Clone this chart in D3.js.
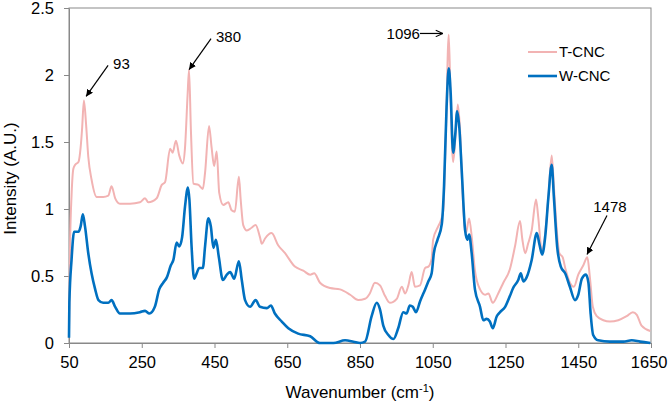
<!DOCTYPE html>
<html>
<head>
<meta charset="utf-8">
<script src="https://cdn.jsdelivr.net/npm/d3@7"></script>
<style>
  body { margin: 0; background: #fff; }
  svg text { font-family: "Liberation Sans", Arial, sans-serif; fill: #000; }
</style>
</head>
<body>
<div class="chart"></div>
<script>
// Raman spectra, wavenumber (cm-1) vs intensity (A.U.)
var tcnc = [
  [50,0.1],[53,0.75],[57,1.1],[62,1.3],[67,1.33],[76,1.35],[82,1.46],[86,1.6],[91,1.81],[97,1.63],
  [103,1.39],[112,1.22],[126,1.09],[144,1.09],[158,1.10],[167,1.17],[177,1.08],[190,1.04],[218,1.04],
  [245,1.05],[259,1.08],[268,1.05],[291,1.08],[305,1.18],[314,1.20],[328,1.45],[335,1.42],[344,1.51],
  [353,1.40],[363,1.34],[369,1.46],[376,1.85],[380,2.04],[385,1.6],[392,1.19],[406,1.18],[418,1.15],
  [424,1.27],[435,1.62],[442,1.46],[449,1.32],[456,1.43],[463,1.12],[474,1.03],[488,1.05],[497,0.99],
  [506,0.98],[517,1.24],[522,1.07],[529,0.88],[539,0.84],[552,0.86],[563,0.88],[575,0.79],[580,0.74],
  [589,0.78],[607,0.82],[625,0.73],[644,0.67],[671,0.57],[694,0.54],[713,0.51],[724,0.52],[740,0.45],
  [768,0.41],[795,0.40],[823,0.36],[845,0.32],[864,0.33],[877,0.37],[891,0.45],[905,0.43],[919,0.35],
  [932,0.30],[951,0.33],[965,0.42],[974,0.37],[983,0.43],[992,0.53],[1001,0.42],[1015,0.43],[1029,0.56],
  [1038,0.57],[1047,0.63],[1051,0.77],[1065,0.87],[1073,0.92],[1079,0.99],[1086,1.56],[1094,2.30],
  [1099,1.81],[1106,1.35],[1113,1.56],[1119,1.78],[1125,1.59],[1132,1.12],[1141,0.82],[1150,0.93],
  [1158,0.77],[1166,0.54],[1180,0.40],[1194,0.36],[1203,0.37],[1215,0.30],[1230,0.37],[1244,0.45],
  [1262,0.55],[1276,0.72],[1290,0.91],[1296,0.78],[1304,0.67],[1312,0.74],[1322,0.84],[1334,1.07],
  [1340,0.94],[1350,0.68],[1357,0.77],[1368,1.09],[1377,1.40],[1383,1.17],[1391,0.84],[1398,0.67],
  [1407,0.64],[1416,0.54],[1427,0.45],[1438,0.42],[1450,0.51],[1464,0.58],[1475,0.64],[1482,0.49],
  [1490,0.27],[1501,0.20],[1519,0.17],[1537,0.16],[1560,0.17],[1583,0.20],[1600,0.23],[1611,0.21],
  [1624,0.13],[1648,0.09]
];

var wcnc = [
  [50,0.04],[51,0.3],[57,0.62],[64,0.83],[76,0.83],[82,0.87],[88,0.96],[94,0.87],[103,0.67],[112,0.52],
  [122,0.40],[131,0.32],[144,0.30],[158,0.30],[167,0.32],[177,0.27],[190,0.22],[218,0.22],[245,0.23],
  [259,0.24],[271,0.22],[286,0.27],[298,0.40],[309,0.45],[319,0.49],[330,0.58],[337,0.62],[346,0.75],
  [353,0.72],[361,0.79],[369,1.02],[377,1.16],[381,1.07],[387,0.72],[394,0.48],[401,0.52],[408,0.56],
  [418,0.56],[424,0.72],[433,0.93],[440,0.87],[447,0.71],[454,0.77],[462,0.64],[473,0.47],[484,0.51],
  [493,0.53],[504,0.48],[517,0.61],[525,0.47],[534,0.32],[548,0.27],[563,0.32],[575,0.27],[594,0.26],
  [605,0.28],[616,0.22],[635,0.16],[653,0.11],[680,0.07],[713,0.05],[740,0.0],[777,0.0],[809,0.02],
  [832,0.01],[850,0.0],[864,0.01],[882,0.20],[896,0.30],[905,0.25],[914,0.13],[928,0.06],[942,0.03],
  [955,0.11],[969,0.23],[978,0.22],[987,0.28],[995,0.27],[1004,0.23],[1015,0.31],[1029,0.40],
  [1038,0.46],[1047,0.52],[1053,0.67],[1063,0.77],[1075,0.89],[1081,1.17],[1088,1.76],[1094,2.05],
  [1099,1.88],[1106,1.42],[1112,1.56],[1117,1.73],[1123,1.61],[1130,1.27],[1139,0.84],[1145,0.77],
  [1150,0.81],[1157,0.67],[1166,0.40],[1180,0.27],[1189,0.17],[1198,0.18],[1207,0.16],[1215,0.11],
  [1226,0.20],[1235,0.23],[1249,0.27],[1262,0.35],[1271,0.41],[1285,0.47],[1292,0.52],[1299,0.46],
  [1308,0.49],[1322,0.62],[1336,0.82],[1343,0.74],[1351,0.66],[1359,0.79],[1368,1.09],[1377,1.33],
  [1383,1.09],[1392,0.72],[1402,0.57],[1414,0.52],[1427,0.42],[1441,0.32],[1450,0.36],[1460,0.48],
  [1471,0.51],[1478,0.45],[1484,0.22],[1491,0.06],[1505,0.02],[1537,0.01],[1574,0.01],[1597,0.02],
  [1620,0.01],[1648,0.0]
];

var xTicks = [50, 250, 450, 650, 850, 1050, 1250, 1450, 1650];
var yTicks = [0, 0.5, 1, 1.5, 2, 2.5];
var seriesNames = ["T-CNC", "W-CNC"];

// peak labels: text, wavenumber and intensity the arrow points at
var peakLabels = [
  { text: "93",   w: 97,   v: 1.84 },
  { text: "380",  w: 380,  v: 2.04 },
  { text: "1096", w: 1078, v: 2.31 },
  { text: "1478", w: 1474, v: 0.66 }
];

var width = 668, height = 405;
var margin = { top: 8, right: 17, bottom: 62, left: 69 };

var svg = d3.select(".chart").append("svg")
    .attr("width", width)
    .attr("height", height);

var x = d3.scaleLinear().domain([50, 1650]).range([margin.left, width - margin.right]);
var y = d3.scaleLinear().domain([0, 2.5]).range([height - margin.bottom, margin.top]);

var axisColor = "#898989";

// frame
svg.append("rect")
    .attr("x", x(50)).attr("y", y(2.5))
    .attr("width", x(1650) - x(50)).attr("height", y(0) - y(2.5))
    .attr("fill", "none").attr("stroke", axisColor).attr("stroke-width", 1);

var xAxis = svg.append("g")
    .attr("transform", "translate(0," + y(0) + ")")
    .call(d3.axisBottom(x).tickValues(xTicks).tickSizeInner(5).tickSizeOuter(0).tickPadding(8)
      .tickFormat(function(d){ return String(d); }));
var yAxis = svg.append("g")
    .attr("transform", "translate(" + x(50) + ",0)")
    .call(d3.axisLeft(y).tickValues(yTicks).tickSizeInner(5).tickSizeOuter(0).tickPadding(10)
      .tickFormat(function(d){ return String(d); }));

[xAxis, yAxis].forEach(function(g){
  g.selectAll("path, line").attr("stroke", axisColor);
  g.selectAll("text").style("font-size", "16.5px").attr("fill", "#000");
});
// last label sits against the right edge of the picture
xAxis.selectAll(".tick").filter(function(d){ return d === 1650; })
    .select("text").attr("text-anchor", "end").attr("x", 16);

// axis titles
var xt = svg.append("text")
    .attr("x", (x(50) + x(1650)) / 2)
    .attr("y", 398)
    .attr("text-anchor", "middle")
    .style("font-size", "17px");
xt.append("tspan").text("Wavenumber (cm");
xt.append("tspan").text("-1").attr("dy", -6).style("font-size", "11px");
xt.append("tspan").text(")").attr("dy", 6);

svg.append("text")
    .attr("transform", "translate(16," + ((y(0) + y(2.5)) / 2 + 3) + ") rotate(-90)")
    .attr("text-anchor", "middle")
    .style("font-size", "17px")
    .text("Intensity (A.U.)");

// lines
var line = d3.line()
    .x(function(d){ return x(d[0]); })
    .y(function(d){ return y(d[1]); })
    .curve(d3.curveMonotoneX);

var colors = { "T-CNC": "#f2b3b3", "W-CNC": "#0070c0" };
var widths = { "T-CNC": 2, "W-CNC": 2.6 };

svg.append("path").datum(tcnc)
    .attr("d", line).attr("fill", "none")
    .attr("stroke", colors["T-CNC"]).attr("stroke-width", widths["T-CNC"]).attr("stroke-linejoin", "round");
svg.append("path").datum(wcnc)
    .attr("d", line).attr("fill", "none")
    .attr("stroke", colors["W-CNC"]).attr("stroke-width", widths["W-CNC"]).attr("stroke-linejoin", "round");

// legend
var legend = svg.append("g");
seriesNames.forEach(function(name, i){
  var ly = 52 + i * 24;
  legend.append("line")
      .attr("x1", 528).attr("x2", 557).attr("y1", ly).attr("y2", ly)
      .attr("stroke", colors[name]).attr("stroke-width", widths[name]);
  legend.append("text")
      .attr("x", 559).attr("y", ly).attr("dy", "0.35em")
      .style("font-size", "15px")
      .text(name);
});

// arrows
var defs = svg.append("defs");
defs.append("marker")
    .attr("id", "head").attr("viewBox", "0 0 10 10")
    .attr("refX", 10).attr("refY", 5)
    .attr("markerWidth", 7).attr("markerHeight", 7)
    .attr("markerUnits", "userSpaceOnUse")
    .attr("orient", "auto")
  .append("path").attr("d", "M0,0L10,5L0,10z").attr("fill", "#000");
defs.append("marker")
    .attr("id", "openhead").attr("viewBox", "0 0 10 10")
    .attr("refX", 10).attr("refY", 5)
    .attr("markerWidth", 8).attr("markerHeight", 8)
    .attr("markerUnits", "userSpaceOnUse")
    .attr("orient", "auto")
  .append("path").attr("d", "M1,1L10,5L1,9").attr("fill", "none").attr("stroke", "#000").attr("stroke-width", 1.3);

var ann = svg.append("g").style("font-size", "15px");
peakLabels.forEach(function(p){
  var hx = x(p.w), hy = y(p.v);
  if (p.text === "1096") {
    ann.append("line")
        .attr("x1", hx - 23).attr("y1", hy).attr("x2", hx).attr("y2", hy)
        .attr("stroke", "#000").attr("stroke-width", 1.2)
        .attr("marker-end", "url(#openhead)");
    ann.append("text")
        .attr("x", hx - 23).attr("y", hy).attr("dy", "0.35em")
        .attr("text-anchor", "end").text(p.text);
  } else {
    var dx = p.text === "1478" ? 20 : 22;
    var dy = p.text === "1478" ? -39 : -31;
    ann.append("line")
        .attr("x1", hx + dx).attr("y1", hy + dy).attr("x2", hx).attr("y2", hy)
        .attr("stroke", "#000").attr("stroke-width", 1.2)
        .attr("marker-end", "url(#head)");
    if (p.text === "1478") {
      ann.append("text")
          .attr("x", hx + dx + 3).attr("y", hy + dy - 9).attr("dy", "0.35em")
          .attr("text-anchor", "middle").text(p.text);
    } else {
      ann.append("text")
          .attr("x", hx + dx + 5).attr("y", hy + dy - 2).attr("dy", "0.35em")
          .text(p.text);
    }
  }
});
</script>
</body>
</html>
